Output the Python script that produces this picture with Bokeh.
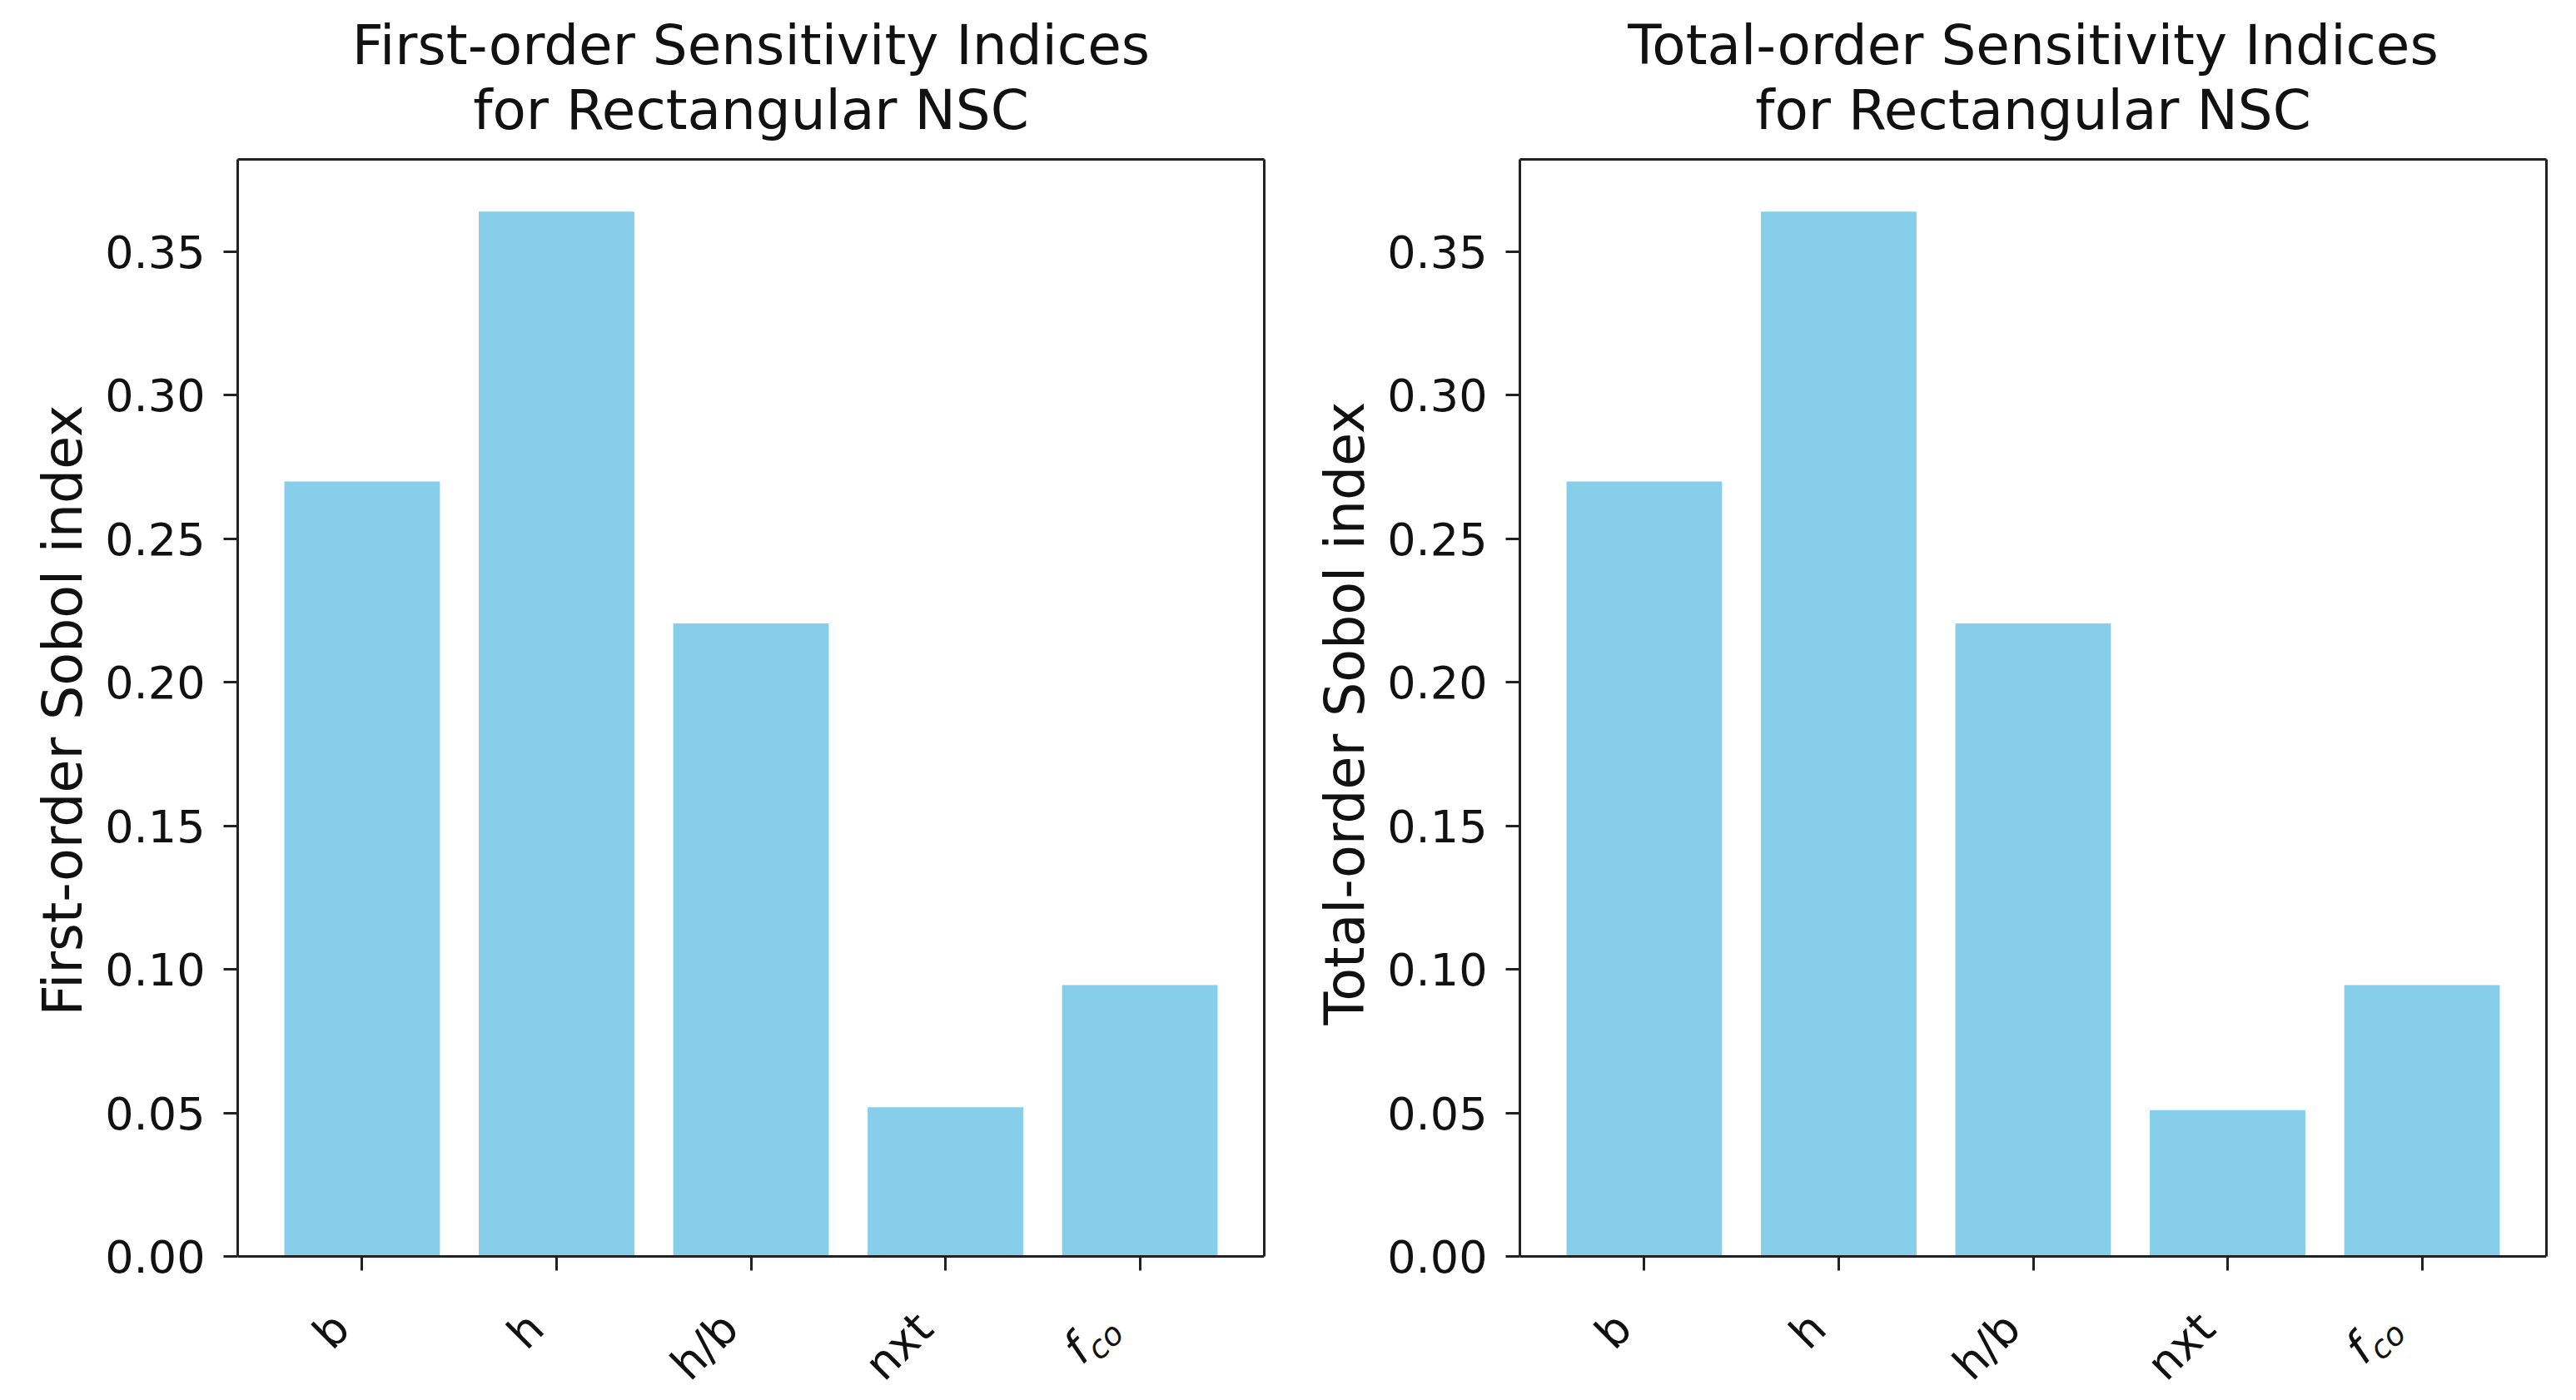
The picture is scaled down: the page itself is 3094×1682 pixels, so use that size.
import math
from bokeh.plotting import figure
from bokeh.layouts import row
from bokeh.models import (Range1d, FixedTicker, Label, Title, LinearAxis,
                          PrintfTickFormatter)
from bokeh.embed import file_html
from bokeh.resources import INLINE

# ---------------- data ----------------
params = ["b", "h", "h/b", "nxt", "fco"]
first_order = [0.270, 0.364, 0.2205, 0.052, 0.0945]
total_order = [0.270, 0.364, 0.2205, 0.051, 0.0945]
y_ticks = [0.00, 0.05, 0.10, 0.15, 0.20, 0.25, 0.30, 0.35]
title_line1 = ["First-order Sensitivity Indices", "Total-order Sensitivity Indices"]
title_line2 = ["for Rectangular NSC", "for Rectangular NSC"]
ylabels = ["First-order Sobol index", "Total-order Sobol index"]
ylabel_em = [11.38, 11.71]     # approximate text widths (in em) for centring

FONT = "DejaVu Sans"
BAR = "#87CEEB"
INK = "#111111"
LINE = "#222222"
TICK_OUT = 17
FRAME_W = 1233
PLOT_H = 1318          # height of the 0..ymax part of the frame
EXT_PX = 165           # room under the axis for the rotated labels
LBL_DX, LBL_DY = -25, 77
YLAB_PX = 65
C45 = math.cos(math.pi / 4)


def make_panel(vals, line1, line2, ylabel, ylab_em, left_border, right_border):
    n = len(params)
    xs = list(range(n))
    ymax = max(vals) * 1.05
    ymin = -EXT_PX * ymax / PLOT_H
    x0, x1 = -0.64, n - 1 + 0.64
    p = figure(output_backend="svg", toolbar_location=None,
               frame_width=FRAME_W, frame_height=PLOT_H + EXT_PX,
               min_border_left=left_border, min_border_right=right_border,
               min_border_top=191, min_border_bottom=0,
               x_range=Range1d(x0, x1), y_range=Range1d(ymin, ymax),
               background_fill_color="white", border_fill_color="white")
    p.vbar(x=xs, top=vals, width=0.8, bottom=0, fill_color=BAR, line_color=None)
    p.grid.visible = False
    p.outline_line_color = None

    # ---- axes ----
    xa = p.xaxis[0]
    ya = p.yaxis[0]
    for ax in (xa, ya):
        ax.axis_line_color = LINE
        ax.axis_line_width = 3
        ax.major_tick_line_color = LINE
        ax.major_tick_line_width = 3
        ax.minor_tick_line_color = None
        ax.major_label_text_font = FONT
        ax.major_label_text_font_size = "54px"
        ax.major_label_text_color = INK

    ya.major_tick_in = 0
    ya.major_tick_out = TICK_OUT
    ya.bounds = (0, ymax)
    ya.major_label_standoff = 22
    ya.ticker = FixedTicker(ticks=y_ticks)
    ya.formatter = PrintfTickFormatter(format="%.2f")

    xa.fixed_location = 0
    xa.major_tick_out = 0
    xa.major_tick_in = -TICK_OUT     # draw the ticks outward without taking panel room
    xa.ticker = FixedTicker(ticks=xs)
    xa.major_label_overrides = {i: "" for i in xs}
    xa.major_label_standoff = 0

    # top and right spines
    top = LinearAxis(ticker=FixedTicker(ticks=[]), axis_line_color=LINE,
                     axis_line_width=3, major_tick_out=0, major_tick_in=0,
                     minor_tick_out=0, minor_tick_in=0, major_label_standoff=0)
    right = LinearAxis(ticker=FixedTicker(ticks=[]), bounds=(0, ymax),
                       axis_line_color=LINE, axis_line_width=3, major_tick_out=0,
                       major_tick_in=0, minor_tick_out=0, minor_tick_in=0,
                       major_label_standoff=0)
    p.add_layout(top, "above")
    p.add_layout(right, "right")

    # y-axis label, centred on the 0..ymax part of the frame
    ylab_len = ylab_em * YLAB_PX
    ylab = Title(text=ylabel, align="left",
                 offset=round(PLOT_H / 2 + EXT_PX - ylab_len / 2),
                 text_font=FONT, text_font_size=f"{YLAB_PX}px",
                 text_font_style="normal", text_color=INK, standoff=22)
    p.add_layout(ylab, "left")

    # ---- two centred title lines ----
    p.title.text = line1
    p.title.align = "center"
    p.title.text_font = FONT
    p.title.text_font_size = "66px"
    p.title.text_font_style = "normal"
    p.title.text_color = INK
    p.title.text_line_height = 1.0
    p.title.standoff = -44
    t2 = Title(text=line2, align="center", text_font=FONT, text_font_size="66px",
               text_font_style="normal", text_color=INK, standoff=42,
               text_line_height=1.0)
    p.add_layout(t2, "above")

    # ---- rotated category labels ----
    for i, name in enumerate(params[:-1]):
        p.add_layout(Label(x=xs[i], y=0, x_offset=LBL_DX, y_offset=-LBL_DY,
                           text=name, angle=math.pi / 4,
                           text_align="right", text_baseline="middle",
                           text_font=FONT, text_font_size="54px",
                           text_color=INK))
    # last label: italic f with subscript co
    base, subs = params[-1][0], params[-1][1:]
    co_dx, co_dy = LBL_DX - 1, LBL_DY + 9
    f_dx = co_dx - 44 * C45 - 17 * C45
    f_dy = co_dy + 44 * C45 - 17 * C45
    p.add_layout(Label(x=xs[-1], y=0, x_offset=co_dx, y_offset=-co_dy,
                       text=subs, angle=math.pi / 4,
                       text_align="right", text_baseline="middle",
                       text_font=FONT, text_font_style="italic",
                       text_font_size="38px", text_color=INK))
    p.add_layout(Label(x=xs[-1], y=0, x_offset=f_dx, y_offset=-f_dy,
                       text=base, angle=math.pi / 4,
                       text_align="right", text_baseline="middle",
                       text_font=FONT, text_font_style="italic",
                       text_font_size="54px", text_color=INK))
    return p


p1 = make_panel(first_order, title_line1[0], title_line2[0], ylabels[0],
                ylabel_em[0], 285, 30)
p2 = make_panel(total_order, title_line1[1], title_line2[1], ylabels[1],
                ylabel_em[1], 277, 30)
layout = row(p1, p2)

open("out.html", "w").write(file_html(layout, INLINE))
